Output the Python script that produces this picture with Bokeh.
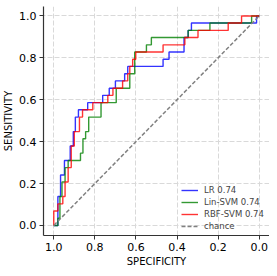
from bokeh.plotting import figure
from bokeh.models import Range1d, Legend, LegendItem, SingleIntervalTicker, PrintfTickFormatter
from bokeh.embed import file_html
from bokeh.resources import INLINE

# ROC step vertices (specificity, sensitivity)
lr_spec = [1.0, 0.98, 0.98, 0.967, 0.967, 0.948, 0.948, 0.92, 0.92, 0.905, 0.905, 0.895, 0.895,
           0.88, 0.88, 0.865, 0.865, 0.835, 0.835, 0.762, 0.762, 0.73, 0.73, 0.70, 0.70, 0.655,
           0.655, 0.64, 0.64, 0.468, 0.468, 0.439, 0.439, 0.366, 0.366, 0.346, 0.346, 0.33, 0.33,
           0.013, 0.013, 0.0]
lr_sens = [0.0, 0.0, 0.138, 0.138, 0.241, 0.241, 0.310, 0.310, 0.379, 0.379, 0.448, 0.448, 0.517,
           0.517, 0.552, 0.552, 0.552, 0.552, 0.586, 0.586, 0.621, 0.621, 0.655, 0.655, 0.690, 0.690,
           0.724, 0.724, 0.759, 0.759, 0.793, 0.793, 0.828, 0.828, 0.897, 0.897, 0.931, 0.931,
           0.966, 0.966, 1.0, 1.0]

lin_spec = [1.0, 0.98, 0.98, 0.97, 0.97, 0.96, 0.96, 0.945, 0.945, 0.93, 0.93, 0.875, 0.875, 0.87,
            0.87, 0.858, 0.858, 0.845, 0.845, 0.83, 0.83, 0.77, 0.77, 0.696, 0.696, 0.63, 0.63,
            0.606, 0.606, 0.549, 0.549, 0.525, 0.525, 0.346, 0.346, 0.24, 0.24,
            0.037, 0.037, 0.0]
lin_sens = [0.0, 0.0, 0.034, 0.034, 0.138, 0.138, 0.207, 0.207, 0.276, 0.276, 0.310, 0.310, 0.310,
            0.310, 0.345, 0.345, 0.414, 0.414, 0.448, 0.448, 0.517, 0.517, 0.586, 0.586, 0.655,
            0.655, 0.724, 0.724, 0.828, 0.828, 0.862, 0.862, 0.897, 0.897, 0.931,
            0.931, 0.966, 0.966, 1.0, 1.0]

rbf_spec = [1.0, 1.0, 0.98, 0.98, 0.956, 0.956, 0.945, 0.945, 0.93, 0.93, 0.915, 0.915,
            0.90, 0.90, 0.875, 0.875, 0.86, 0.86, 0.81, 0.81, 0.737, 0.737, 0.712, 0.712,
            0.665, 0.665, 0.64, 0.64, 0.63, 0.63, 0.616, 0.616, 0.601, 0.601, 0.468, 0.468,
            0.362, 0.362, 0.298, 0.298, 0.151, 0.151, 0.086, 0.086, 0.0]
rbf_sens = [0.0, 0.069, 0.069, 0.103, 0.103, 0.138, 0.138, 0.207, 0.207, 0.276, 0.276, 0.379,
            0.379, 0.448, 0.448, 0.517, 0.517, 0.552, 0.552, 0.586, 0.586, 0.621, 0.621, 0.655,
            0.655, 0.690, 0.690, 0.724, 0.724, 0.759, 0.759, 0.793, 0.793, 0.828, 0.828, 0.862,
            0.862, 0.897, 0.897, 0.931, 0.931, 0.966, 0.966, 1.0, 1.0]

chance_x = [1.0, 0.0]
chance_y = [0.0, 1.0]

labels = ["LR 0.74", "Lin-SVM 0.74", "RBF-SVM 0.74", "chance"]
colors = ["blue", "green", "red", "gray"]

p = figure(frame_width=226, frame_height=229, output_backend="svg", toolbar_location=None,
           x_range=Range1d(1.05, -0.05), y_range=Range1d(-0.048, 1.045),
           min_border_left=38, min_border_right=0, min_border_top=6, min_border_bottom=0)
p.outline_line_color = None
p.background_fill_color = "white"

font = "DejaVu Sans"
for ax in (p.xaxis[0], p.yaxis[0]):
    ax.ticker = SingleIntervalTicker(interval=0.2)
    ax.formatter = PrintfTickFormatter(format="%.1f")
    ax.minor_tick_line_color = None
    ax.major_tick_out = 4
    ax.major_tick_in = 0
    ax.major_label_text_font = font
    ax.major_label_text_font_size = "11px"
    ax.major_label_text_color = "black"
    ax.axis_label_text_font = font
    ax.axis_label_text_font_size = "10px"
    ax.axis_label_text_font_style = "normal"
    ax.axis_label_text_color = "black"
    ax.axis_line_color = "#333333"
    ax.axis_line_width = 1.2
    ax.major_tick_line_color = "#333333"
    ax.major_label_standoff = 3
    ax.axis_label_standoff = 2

p.xaxis.axis_label = "SPECIFICITY"
p.yaxis.axis_label = "SENSITIVITY"

p.xgrid.grid_line_color = "#d9d9d9"
p.ygrid.grid_line_color = "#d9d9d9"
p.xgrid.grid_line_dash = "5 2"
p.ygrid.grid_line_dash = "5 2"
p.xgrid.ticker = SingleIntervalTicker(interval=0.2)
p.ygrid.ticker = SingleIntervalTicker(interval=0.2)

r1 = p.line(lr_spec, lr_sens, line_color=colors[0], line_width=1.4, line_alpha=0.8)
r2 = p.line(lin_spec, lin_sens, line_color=colors[1], line_width=1.4, line_alpha=0.8)
r3 = p.line(rbf_spec, rbf_sens, line_color=colors[2], line_width=1.4, line_alpha=0.8)
r4 = p.line(chance_x, chance_y, line_color=colors[3], line_width=1.5, line_dash="4 2")

legend = Legend(items=[LegendItem(label=labels[0], renderers=[r1]),
                       LegendItem(label=labels[1], renderers=[r2]),
                       LegendItem(label=labels[2], renderers=[r3]),
                       LegendItem(label=labels[3], renderers=[r4])],
                location=(138, 3), border_line_color=None, background_fill_alpha=0.0,
                label_text_font=font, label_text_font_size="8.5px", glyph_width=17, glyph_height=12,
                label_height=12, spacing=0, padding=0, margin=0, label_standoff=6)
p.add_layout(legend)

open("out.html", "w").write(file_html(p, INLINE))
